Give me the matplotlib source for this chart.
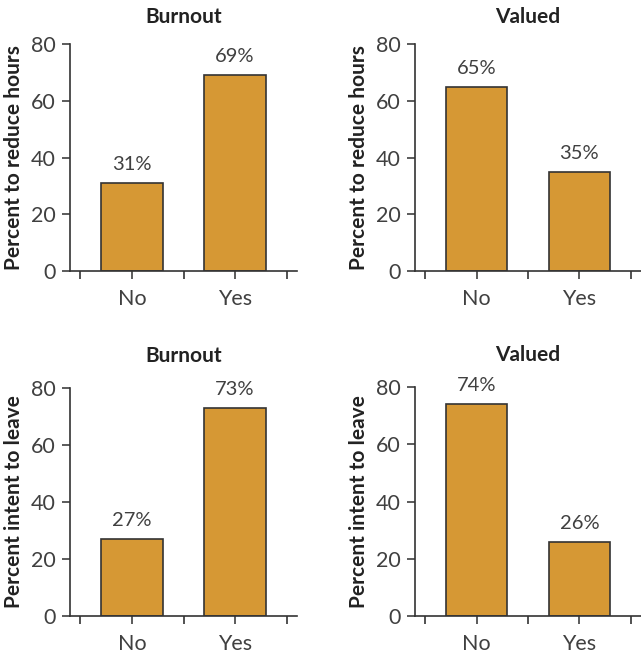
import matplotlib.pyplot as plt

plt.rcParams['font.family'] = ['Lato', 'DejaVu Sans']

groups = ['No', 'Yes']
titles = ['Burnout', 'Valued', 'Burnout', 'Valued']
ylabels = ['Percent to reduce hours', 'Percent to reduce hours',
           'Percent intent to leave', 'Percent intent to leave']
reduce_burnout = [31, 69]
reduce_valued = [65, 35]
leave_burnout = [27, 73]
leave_valued = [74, 26]
yticks = [0, 20, 40, 60, 80]

W, H = 641, 656
fig = plt.figure(figsize=(W / 100, H / 100), dpi=100)

# axes boxes in pixels: left, right, y-of-80, y-of-0, title pad
boxes = [(70, 297, 44, 271, 15), (415, 641, 44, 271, 15),
         (70, 297, 388, 616, 19), (415, 641, 387, 616, 19)]
data = [reduce_burnout, reduce_valued, leave_burnout, leave_valued]
txt = '#404040'

for (l, r, t, b, tp), vals, title, ylab in zip(boxes, data, titles, ylabels):
    ax = fig.add_axes([l / W, (H - b) / H, (r - l) / W, (b - t) / H])
    x = range(len(groups))
    ax.bar(x, vals, width=0.6, color='#D69834', edgecolor='#333333', linewidth=1.2)
    for xi, v in zip(x, vals):
        ax.text(xi, v + 3.5, f'{v}%', ha='center', va='bottom', fontsize=14.5,
                color=txt)
    ax.set_xlim(-0.6, 1.6)
    ax.set_ylim(0, 80)
    ax.set_xticks([0, 1])
    ax.set_xticklabels(groups)
    ax.set_xticks([-0.5, 0.5, 1.5], minor=True)
    ax.set_yticks(yticks)
    ax.tick_params(axis='both', labelsize=15.5, colors=txt, length=6, width=1.2)
    ax.tick_params(axis='x', which='minor', length=6, width=1.2, colors='#333333')
    ax.tick_params(axis='x', pad=7)
    ax.tick_params(axis='y', pad=4)
    for s in ['top', 'right']:
        ax.spines[s].set_visible(False)
    for s in ['left', 'bottom']:
        ax.spines[s].set_color('#333333')
        ax.spines[s].set_linewidth(1.2)
    ax.set_ylabel(ylab, fontsize=15, fontweight='bold', labelpad=5, color='#222222')
    ax.set_title(title, fontsize=15, fontweight='bold', pad=tp, color='#222222')

fig.savefig('out.png', dpi=100)
